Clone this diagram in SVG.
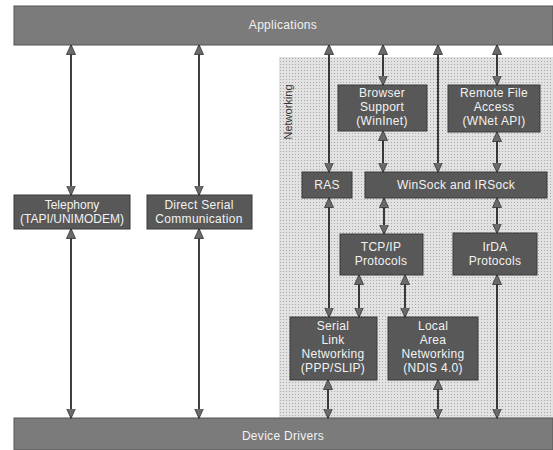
<svg xmlns="http://www.w3.org/2000/svg" width="553" height="450" viewBox="0 0 553 450">
<defs>
<marker id="ah" viewBox="0 0 10 10" refX="9.5" refY="5" markerWidth="10" markerHeight="10" markerUnits="userSpaceOnUse" orient="auto-start-reverse">
<path d="M0,0.5 L10,5 L0,9.5 z" fill="#6a6a6a" stroke="#333" stroke-width="0.8"/>
</marker>
<pattern id="dots" width="3" height="3" patternUnits="userSpaceOnUse">
<rect width="3" height="3" fill="#e2e2e2"/>
<rect x="1" y="1" width="1" height="1" fill="#a8a8a8"/>
</pattern>
</defs>
<style>
.bar{fill:#7b7b7b;stroke:#555;stroke-width:1}
.box{fill:#585858;stroke:#3a3a3a;stroke-width:1}
.t{font-family:"Liberation Sans",Arial,sans-serif;font-size:12px;letter-spacing:0.3px;fill:#f2f2f2;text-anchor:middle}
.c line{stroke:#111;stroke-width:1.6;marker-start:url(#ah);marker-end:url(#ah)}
</style>
<rect width="553" height="450" fill="#ffffff"/>
<rect id="panel" x="279" y="57" width="274" height="361" fill="url(#dots)"/>
<text x="0" y="0" transform="translate(292,112) rotate(-90)" style="font-family:'Liberation Sans',Arial,sans-serif;font-size:11px;fill:#333;text-anchor:middle">Networking</text>

<g id="applications"><rect class="bar" x="14" y="6" width="539" height="39"/><text class="t" x="283" y="29">Applications</text></g>
<g id="device-drivers"><rect class="bar" x="14" y="418" width="539" height="32"/><text class="t" x="283" y="440">Device Drivers</text></g>

<g id="telephony"><rect class="box" x="14" y="195" width="116" height="34"/><text class="t" x="72" y="209" style="letter-spacing:0">Telephony</text><text class="t" x="72" y="223" style="letter-spacing:0">(TAPI/UNIMODEM)</text></g>
<g id="direct-serial"><rect class="box" x="147" y="195" width="105" height="34"/><text class="t" x="199" y="209">Direct Serial</text><text class="t" x="199" y="223">Communication</text></g>

<g id="browser"><rect class="box" x="338" y="85" width="89" height="46"/><text class="t" x="382" y="97">Browser</text><text class="t" x="382" y="111">Support</text><text class="t" x="382" y="125">(WinInet)</text></g>
<g id="remote-file"><rect class="box" x="448" y="85" width="92" height="47"/><text class="t" x="494" y="97">Remote File</text><text class="t" x="494" y="111">Access</text><text class="t" x="494" y="125">(WNet API)</text></g>

<g id="ras"><rect class="box" x="302" y="172" width="50" height="26"/><text class="t" x="327" y="189">RAS</text></g>
<g id="winsock"><rect class="box" x="365" y="172" width="182" height="26"/><text class="t" x="456" y="189">WinSock and IRSock</text></g>

<g id="tcpip"><rect class="box" x="340" y="234" width="83" height="41"/><text class="t" x="381" y="251">TCP/IP</text><text class="t" x="381" y="265">Protocols</text></g>
<g id="irda"><rect class="box" x="453" y="233" width="84" height="42"/><text class="t" x="495" y="251">IrDA</text><text class="t" x="495" y="265">Protocols</text></g>

<g id="serial-link"><rect class="box" x="290" y="317" width="87" height="63"/><text class="t" x="333" y="330">Serial</text><text class="t" x="333" y="344">Link</text><text class="t" x="333" y="358">Networking</text><text class="t" x="333" y="372">(PPP/SLIP)</text></g>
<g id="lan"><rect class="box" x="388" y="317" width="90" height="63"/><text class="t" x="433" y="330">Local</text><text class="t" x="433" y="344">Area</text><text class="t" x="433" y="358">Networking</text><text class="t" x="433" y="372">(NDIS 4.0)</text></g>

<g id="connectors" class="c">
<line x1="71" y1="45" x2="71" y2="195"/>
<line x1="71" y1="229" x2="71" y2="418"/>
<line x1="199" y1="45" x2="199" y2="195"/>
<line x1="199" y1="229" x2="199" y2="418"/>
<line x1="329" y1="45" x2="329" y2="172"/>
<line x1="329" y1="198" x2="329" y2="317"/>
<line x1="383" y1="45" x2="383" y2="85"/>
<line x1="383" y1="131" x2="383" y2="172"/>
<line x1="438" y1="45" x2="438" y2="172"/>
<line x1="497" y1="45" x2="497" y2="85"/>
<line x1="497" y1="132" x2="497" y2="172"/>
<line x1="384" y1="198" x2="384" y2="234"/>
<line x1="497" y1="198" x2="497" y2="233"/>
<line x1="359" y1="275" x2="359" y2="317"/>
<line x1="405" y1="275" x2="405" y2="317"/>
<line x1="497" y1="275" x2="497" y2="418"/>
<line x1="328" y1="380" x2="328" y2="418"/>
<line x1="438" y1="380" x2="438" y2="418"/>
</g>
</svg>
